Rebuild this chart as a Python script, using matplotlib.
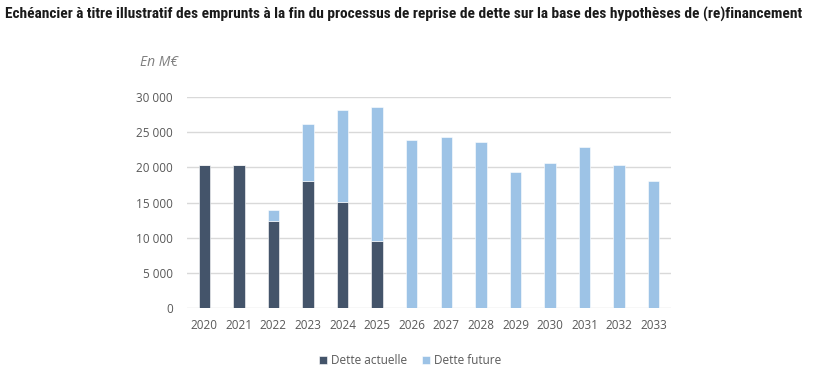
import numpy as np
import matplotlib
matplotlib.use("Agg")
from matplotlib import pyplot as plt
from matplotlib import font_manager

annees = ["2020", "2021", "2022", "2023", "2024", "2025", "2026", "2027",
          "2028", "2029", "2030", "2031", "2032", "2033"]
dette_actuelle = [20300, 20400, 12400, 18050, 15100, 9500, 0, 0, 0, 0, 0, 0, 0, 0]
dette_future = [0, 0, 1500, 8050, 13050, 19050, 23900, 24300, 23650, 19300,
                20550, 22950, 20300, 18000]
yticks = [0, 5000, 10000, 15000, 20000, 25000, 30000]
titre = ("Echéancier à titre illustratif des emprunts à la fin du processus de reprise "
         "de dette sur la base des hypothèses de (re)financement")

sombre = "#44546A"
clair = "#9DC3E6"
gris = "#595959"

noms = {f.name for f in font_manager.fontManager.ttflist}
titre_font = "DejaVu Sans"
for nom in ["Roboto Condensed", "Open Sans Condensed", "Liberation Sans Narrow", "Roboto"]:
    if nom in noms:
        titre_font = nom
        break
plt.rcParams["font.family"] = ["Open Sans", "DejaVu Sans"]

fig = plt.figure(figsize=(8.15, 3.74), dpi=100)
ax = fig.add_axes([0.2294, 0.1765, 0.594, 0.5641])

x = np.arange(len(annees))
ax.bar(x, dette_actuelle, width=0.33, color=sombre, edgecolor="white", linewidth=0.4,
       label="Dette actuelle", zorder=3)
ax.bar(x, dette_future, width=0.33, bottom=dette_actuelle, color=clair, edgecolor="white",
       linewidth=0.4, label="Dette future", zorder=3)

ax.set_xlim(-0.5, len(annees) - 0.5)
ax.set_ylim(0, 30000)
ax.set_yticks(yticks)
ax.set_yticklabels([f"{v:,}".replace(",", " ") for v in yticks])
ax.set_xticks(x)
ax.set_xticklabels(annees)
ax.grid(axis="y", color="#D9D9D9", linewidth=1, zorder=0)
for s in ax.spines.values():
    s.set_visible(False)
ax.tick_params(axis="both", length=0, colors=gris, labelsize=8.5)
ax.tick_params(axis="y", pad=10)
ax.tick_params(axis="x", pad=8)

# titre : on ajuste la taille pour qu'il tienne sur ~803 px
t = fig.text(0.006, 0.962, titre, fontsize=12, fontweight="bold", family=titre_font,
             color="#1a1a1a", va="center")
r = fig.canvas.get_renderer()
w = t.get_window_extent(renderer=r).width
t.set_fontsize(min(12, 12 * 800 / w))

fig.text(0.172, 0.832, "En M€", fontsize=10, style="italic", color="#7f7f7f", va="center")

fig.legend(loc="center", bbox_to_anchor=(0.503, 0.035), ncol=2, frameon=False,
           fontsize=8.5, handlelength=0.7, handleheight=0.7, handletextpad=0.3,
           columnspacing=1.3, labelcolor=gris)

plt.savefig("out.png", dpi=100)
